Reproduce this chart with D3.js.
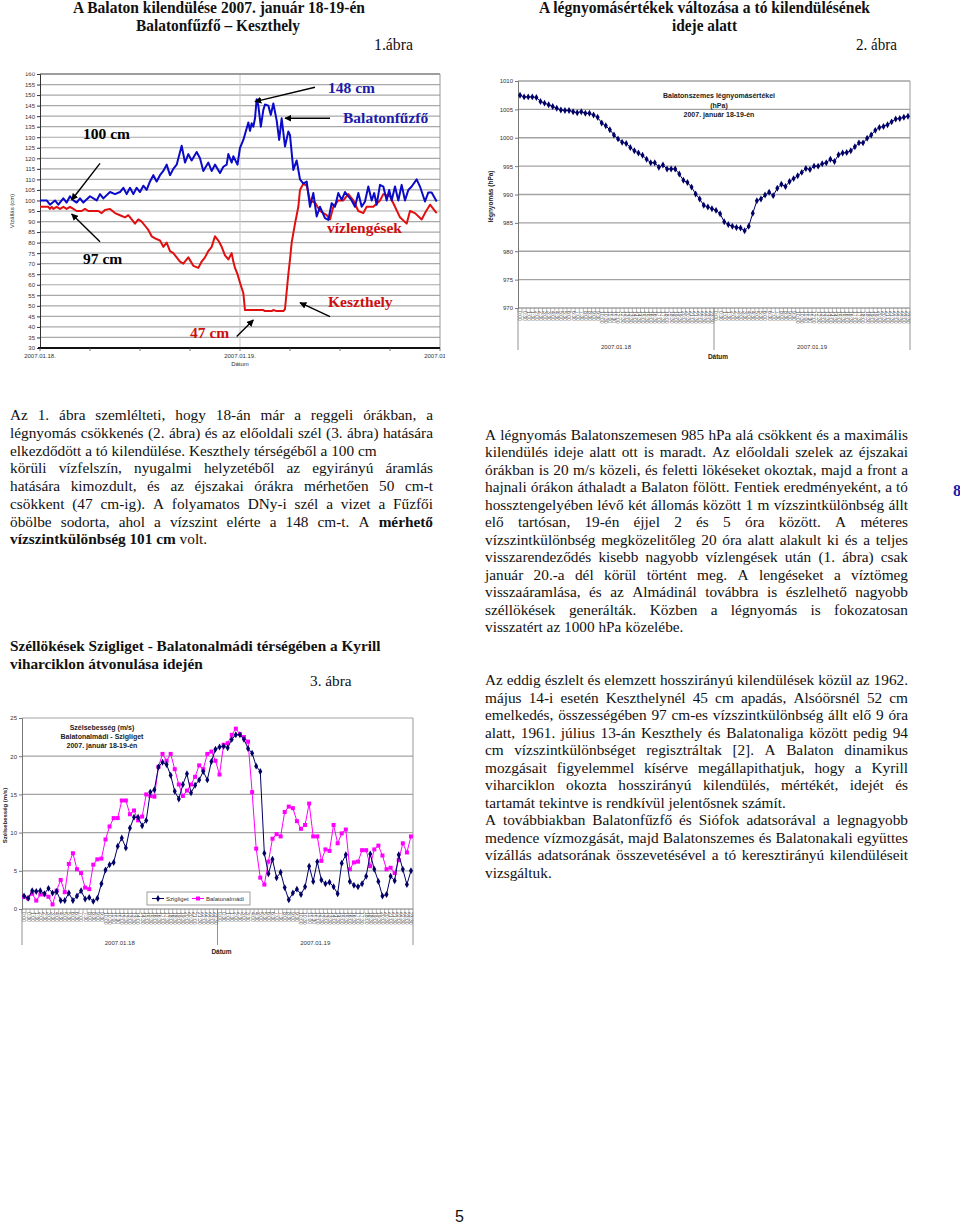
<!DOCTYPE html>
<html><head><meta charset="utf-8">
<script src="https://cdn.jsdelivr.net/npm/d3@7"></script>
<style>
body{margin:0;background:#fff;}
#page{position:relative;width:960px;height:1224px;overflow:hidden;background:#fff;}
svg{position:absolute;left:0;top:0;}
</style></head>
<body><div id="page"><svg id="svg" width="960" height="1224"></svg></div>
<script>
// ================= DATA =================
// Chart 1: water level (cm), hours since 2007.01.18 00:00
const fuzfoHours = [0,0.8,1.2,1.8,2.2,2.8,3.2,3.6,4.0,4.4,4.8,5.2,6.0,6.8,7.2,7.6,8.4,9.0,9.6,10.0,10.4,10.8,11.2,11.6,12.0,12.4,12.8,13.2,13.6,14.0,14.4,14.8,15.2,15.6,16.0,16.4,17.0,17.4,17.8,18.2,18.8,19.2,19.6,20.2,20.6,21.0,21.6,22.0,22.4,22.6,23.0,23.2,23.7,24.0,24.4,25.0,25.2,25.4,25.6,25.8,26.0,26.2,26.5,26.8,27.0,27.4,27.7,28.0,28.4,28.7,29.0,29.4,29.8,30.0,30.4,30.8,31.2,31.6,32.0,32.4,32.8,33.2,33.6,34.2,34.6,35.0,35.4,35.8,36.2,36.6,37.0,37.4,37.8,38.2,38.6,39.0,39.4,39.8,40.1,40.4,40.8,41.2,41.6,41.9,42.2,42.6,43.0,43.4,43.8,44.2,44.6,45.2,45.6,46.2,46.6,47.0,47.6];
const fuzfoLevels = [100,100,98,100,98,101,99,102,100,99,101,99,102,100,103,101,104,103,104,106,103,106,103,106,104,107,105,109,112,109,112,114,117,112,115,117,126,118,122,119,123,120,114,118,114,117,113,116,117,122,118,121,117,125,128.7,137,133,136.6,135,139,148,145,135,143,145.5,145,140.6,146,138,128.7,139,125.6,132.7,131,114.5,119,110,108,109,97,103.5,92.4,97,91.6,90.8,98.7,97,103.5,100.3,104,102,100,97,103.5,97,99.5,106.6,100,103.5,98,107.4,106.6,100,105,100,106.6,100,107.4,100,105,106.6,110,106.6,99.5,103.8,103.8,99.5];
const keszHours = [0,1.0,1.2,1.4,1.6,2.0,2.4,2.8,3.2,3.6,4.0,4.4,5.0,5.4,5.8,6.4,7.0,7.4,7.8,8.4,9.0,9.6,10.2,10.6,11.0,11.4,11.8,12.2,12.6,13.0,13.4,13.8,14.4,14.8,15.2,15.6,16.0,16.4,16.8,17.2,17.8,18.4,19.0,19.4,19.8,20.2,20.6,21.0,21.4,21.8,22.2,22.6,23.0,23.2,23.4,23.7,24.0,24.4,24.6,26.8,27.0,27.8,28.0,28.4,29.2,29.4,29.8,30.0,30.2,30.6,31.0,31.2,31.6,32.0,32.4,33.0,33.6,34.4,34.8,35.2,35.8,36.4,37.0,37.6,38.2,38.8,39.2,40.0,40.8,41.2,42.0,42.6,43.2,44.0,44.4,45.0,45.8,46.2,46.8,47.6];
const keszLevels = [97,97,96,97,96,97,96,97,96,97,96,95,95,96,95,95,95,94,95.5,96,94,93,92,93,91,89,91,90,88,86,83,82,81,78,80,76,75,73,71,70,73,69,68,71,73,76,78,83,81,78,74,72,75,71,68,65,61,56,48,48,47.5,47.5,48,47.5,47.5,48.5,65,72,80,89,97,105,108,107,100,99,95,93,91,97,100,100,103,100,95,94,97,97,100,103,102,97,92,89,95,94,91,94,98,94];
const levelTicks = [30,35,40,45,50,55,60,65,70,75,80,85,90,95,100,105,110,115,120,125,130,135,140,145,150,155,160];
const chart1Dates = ["2007.01.18.","2007.01.19.","2007.01.20."];
const chart1Labels = [
  {text:"100 cm", h:5.16, v:129.2, color:"#000"},
  {text:"97 cm", h:5.16, v:69.9, color:"#000"},
  {text:"47 cm", h:18.0, v:34.7, color:"#cc1010"},
  {text:"148 cm", h:34.56, v:151.0, color:"#1c1ca8"},
  {text:"Balatonfűzfő", h:36.36, v:136.8, color:"#1c1ca8"},
  {text:"vízlengések", h:34.44, v:84.6, color:"#cc1010"},
  {text:"Keszthely", h:34.56, v:49.5, color:"#cc1010"}
];
const chart1Arrows = [
  {h1:7.2, v1:117.6, h2:3.8, v2:100.2},
  {h1:7.2, v1:80.4, h2:3.8, v2:93.6},
  {h1:23.6, v1:35.4, h2:25.6, v2:43.3},
  {h1:33.0, v1:153.7, h2:25.8, v2:146.9},
  {h1:34.8, v1:139.0, h2:29.4, v2:139.0},
  {h1:34.8, v1:44.9, h2:31.2, v2:51.5}
];

// Chart 2: Balatonszemes air pressure (hPa), half-hourly, 18-19 Jan
const pressure = [1007.5,1007.2,1007.2,1007.2,1007.1,1006.4,1006.1,1005.8,1005.5,1005.2,1004.9,1004.8,1004.8,1004.6,1004.4,1004.6,1004.3,1004.3,1004.0,1003.6,1002.6,1002.1,1001.4,1000.5,999.8,999.2,999.0,998.3,997.7,997.3,996.9,996.2,995.6,995.6,994.8,995.2,994.5,994.5,994.5,993.6,992.5,992.1,991.3,990.1,989.2,988.1,987.8,987.5,
  987.2,986.6,985.2,984.7,984.4,984.2,984.1,983.6,984.4,986.7,988.9,989.2,989.9,990.4,989.8,991.1,991.8,991.4,992.3,992.8,993.3,993.9,994.6,994.4,995.0,995.0,995.4,995.6,996.2,995.8,997.0,997.3,997.4,997.7,998.4,999.1,999.1,999.9,1000.5,1001.3,1001.8,1002.0,1002.3,1002.8,1003.3,1003.4,1003.6,1003.8];
const pressureTicks = [970,975,980,985,990,995,1000,1005,1010];
const dayLabels = ["2007.01.18","2007.01.19"];
const chart2Title = ["Balatonszemes légnyomásértékei","(hPa)","2007. január 18-19-én"];

// Chart 3: wind gusts (m/s), half-hourly
const szigliget = [1.7,1.4,2.4,2.3,2.4,2.0,2.7,2.1,2.3,1.1,1.1,2.1,1.1,1.7,2.4,1.3,1.5,1.0,1.4,3.3,5.1,5.8,6.1,8.2,9.3,8.0,10.6,12.0,12.0,10.9,11.6,15.3,15.6,18.6,19.2,18.9,17.5,15.4,14.4,16.3,17.7,15.2,16.2,16.9,18.0,16.9,19.3,20.9,21.2,
  21.3,21.1,22.2,22.8,22.8,22.2,21.0,20.4,18.7,18.0,7.3,4.6,6.5,4.1,4.8,2.8,1.2,2.1,2.6,1.9,2.9,5.6,3.6,6.2,3.8,3.3,3.5,2.9,2.0,6.0,7.1,3.6,3.1,2.9,3.3,4.3,7.2,5.2,3.6,1.7,1.9,4.3,3.7,7.1,5.2,3.2,5.0];
const almadi = [1.6,1.4,2.0,1.1,1.9,1.9,1.6,0.6,2.4,3.8,2.2,5.9,7.3,5.2,4.7,2.8,2.6,5.8,6.5,6.6,9.1,10.8,11.9,11.9,14.2,14.2,12.4,12.9,11.6,12.1,15.0,14.8,14.7,18.6,20.3,19.4,20.3,18.3,16.3,14.8,15.5,16.3,17.3,18.8,18.3,20.3,20.6,19.4,17.6,
  21.5,21.7,22.8,23.6,22.9,22.5,21.9,15.3,7.9,4.1,3.2,6.2,9.2,9.8,9.5,12.7,13.4,13.2,11.5,10.5,11.0,13.8,9.5,9.5,6.3,7.8,7.6,11.0,8.6,9.9,10.4,5.2,6.1,6.2,7.7,7.7,5.6,7.8,8.3,7.0,5.2,5.4,4.7,6.4,8.6,7.4,9.5];
const windTicks = [0,5,10,15,20,25];
const chart3Title = ["Szélsebesség (m/s)","Balatonalmádi - Szigliget","2007. január 18-19-én"];
const seriesNames = ["Szigliget","Balatonalmádi"];

// half-hour category labels
const timeLabels = [];
for (let d = 0; d < 2; d++) for (let i = 0; i < 48; i++) timeLabels.push(Math.floor(i/2) + ":" + (i % 2 ? "30" : "00"));

// ---- Text content
const leftPara = [
  ["Az 1. ábra szemlélteti, hogy 18-án már a reggeli órákban, a", true],
  ["légnyomás csökkenés (2. ábra)  és az előoldali szél (3. ábra) hatására", true],
  ["elkezdődött a tó kilendülése. Keszthely térségéből a 100 cm", false],
  ["körüli vízfelszín, nyugalmi helyzetéből az egyirányú áramlás", true],
  ["hatására kimozdult, és az éjszakai órákra mérhetően 50 cm-t", true],
  ["csökkent (47 cm-ig). A folyamatos DNy-i szél a vizet a Fűzfői", true],
  ["öbölbe sodorta, ahol a vízszint elérte a 148 cm-t. A *mérhető", true],
  ["*vízszintkülönbség *101 *cm volt.", false]
];
const rightPara1 = [
  ["A légnyomás Balatonszemesen 985 hPa alá csökkent és a maximális", true],
  ["kilendülés ideje alatt ott is maradt. Az előoldali szelek az éjszakai", true],
  ["órákban is 20 m/s közeli, és feletti lökéseket okoztak, majd a front a", true],
  ["hajnali órákon áthaladt a Balaton fölött. Fentiek eredményeként, a tó", true],
  ["hossztengelyében lévő két állomás között 1 m vízszintkülönbség állt", true],
  ["elő tartósan, 19-én éjjel 2 és 5 óra között. A méteres", true],
  ["vízszintkülönbség megközelitőleg 20 óra alatt alakult ki és a teljes", true],
  ["visszarendeződés kisebb nagyobb vízlengések után (1. ábra) csak", true],
  ["január 20.-a dél körül történt meg. A lengéseket a víztömeg", true],
  ["visszaáramlása, és az Almádinál továbbra is észlelhető nagyobb", true],
  ["széllökések generálták. Közben a légnyomás is fokozatosan", true],
  ["visszatért az 1000 hPa közelébe.", false]
];
const rightPara2 = [
  ["Az eddig észlelt és elemzett hosszirányú kilendülések közül az 1962.", true],
  ["május 14-i esetén Keszthelynél 45 cm apadás, Alsóörsnél 52 cm", true],
  ["emelkedés, összességében 97 cm-es vízszintkülönbség állt elő 9 óra", true],
  ["alatt, 1961. július 13-án Keszthely és Balatonaliga között pedig 94", true],
  ["cm vízszintkülönbséget regisztráltak [2]. A Balaton dinamikus", true],
  ["mozgásait figyelemmel kísérve megállapithatjuk, hogy a Kyrill", true],
  ["viharciklon okozta hosszirányú kilendülés, mértékét, idejét és", true],
  ["tartamát tekintve is rendkívül jelentősnek számít.", false],
  ["A továbbiakban Balatonfűzfő és Siófok adatsorával a legnagyobb", true],
  ["medence vízmozgását, majd Balatonszemes és Balatonakali együttes", true],
  ["vízállás adatsorának összevetésével a tó keresztirányú kilendüléseit", true],
  ["vizsgáltuk.", false]
];

// ================= DRAWING =================
const serif = "'Liberation Serif','Times New Roman',serif";
const sans = "'Liberation Sans',Arial,sans-serif";
const svg = d3.select("#svg");
const defs = svg.append("defs");

function textLine(g, x, y, width, line, justify, size, allBold) {
  const words = line.split(/ +/);
  const items = words.map(w => {
    const bold = allBold || w.startsWith("*");
    const t = w.startsWith("*") ? w.slice(1) : w;
    const el = g.append("text").attr("y", y).attr("font-family", serif).attr("font-size", size)
      .attr("font-weight", bold ? "bold" : "normal").attr("fill", "#111").text(t);
    return {el, w: el.node().getComputedTextLength()};
  });
  const total = d3.sum(items, d => d.w);
  const gap = justify && items.length > 1 ? (width - total) / (items.length - 1) : size * 0.25;
  let cx = x;
  items.forEach(d => { d.el.attr("x", cx); cx += d.w + gap; });
}
function fitText(g, x, y, len, txt, size, weight, anchor) {
  return g.append("text").attr("x", x).attr("y", y).attr("font-family", serif).attr("font-size", size)
    .attr("font-weight", weight).attr("text-anchor", anchor || "start")
    .attr("textLength", len).attr("lengthAdjust", "spacingAndGlyphs").attr("fill", "#111").text(txt);
}

// ---- Header titles
const hg = svg.append("g");
fitText(hg, 73, 13, 292, "A Balaton kilendülése 2007. január 18-19-én", 16, "bold");
fitText(hg, 136, 31, 164, "Balatonfűzfő – Keszthely", 16, "bold");
fitText(hg, 374, 50, 39, "1.ábra", 16, "normal");
fitText(hg, 539, 13, 331, "A légnyomásértékek változása a tó kilendülésének", 16, "bold");
fitText(hg, 672, 31, 65, "ideje alatt", 16, "bold");
fitText(hg, 856, 50, 41, "2. ábra", 16, "normal");

// ================= Chart 1 =================
(function(){
  const c = {l:40, r:440, t:74, b:348};
  defs.append("clipPath").attr("id","clip1").append("rect").attr("x",0).attr("y",72.5).attr("width",445).attr("height",300);
  const g = svg.append("g").attr("clip-path","url(#clip1)");
  const x = d3.scaleLinear().domain([0,48]).range([c.l,c.r]);
  const y = d3.scaleLinear().domain([30,160]).range([c.b,c.t]);
  g.selectAll("line.grid").data(levelTicks.slice(1)).join("line")
    .attr("x1",c.l).attr("x2",c.r).attr("y1",d=>y(d)).attr("y2",d=>y(d))
    .attr("stroke","#a9a9a9").attr("stroke-width",1.2);
  g.append("line").attr("x1",x(24)).attr("x2",x(24)).attr("y1",c.t).attr("y2",c.b).attr("stroke","#c8c8c8");
  g.append("line").attr("x1",c.l).attr("x2",c.r).attr("y1",c.t).attr("y2",c.t).attr("stroke","#666").attr("stroke-width",1.2);
  g.append("line").attr("x1",c.r).attr("x2",c.r).attr("y1",c.t).attr("y2",c.b).attr("stroke","#999");
  const ax = g.append("g").attr("transform",`translate(${c.l},0)`).call(d3.axisLeft(y).tickValues(levelTicks).tickSize(3).tickPadding(2).tickFormat(d3.format("d")));
  ax.attr("font-family",sans).attr("font-size",6);
  ax.selectAll("text").attr("fill","#333");
  ax.selectAll("line,path").attr("stroke","#333");
  g.append("line").attr("x1",c.l-2).attr("x2",c.r).attr("y1",c.b).attr("y2",c.b).attr("stroke","#111").attr("stroke-width",2);
  g.selectAll("line.xt").data(d3.range(0,49,6)).join("line")
    .attr("x1",d=>x(d)).attr("x2",d=>x(d)).attr("y1",c.b).attr("y2",c.b+3).attr("stroke","#555").attr("stroke-width",0.8);
  g.selectAll("text.dl").data(chart1Dates).join("text")
    .attr("x",(d,i)=>x(i*24)).attr("y",c.b+10).attr("text-anchor","middle")
    .attr("font-family",sans).attr("font-size",6).attr("fill","#333").text(d=>d);
  g.append("text").attr("x",x(24)).attr("y",c.b+18).attr("text-anchor","middle")
    .attr("font-family",sans).attr("font-size",6).attr("fill","#333").text("Dátum");
  g.append("text").attr("transform",`translate(14,${(c.t+c.b)/2}) rotate(-90)`).attr("text-anchor","middle")
    .attr("font-family",sans).attr("font-size",6).attr("fill","#333").text("Vízállás (cm)");

  const line = d3.line().x(d=>x(d[0])).y(d=>y(d[1]));
  g.append("path").attr("d",line(keszHours.map((h,i)=>[h,keszLevels[i]])))
    .attr("fill","none").attr("stroke","#e01010").attr("stroke-width",2).attr("stroke-linejoin","round");
  g.append("path").attr("d",line(fuzfoHours.map((h,i)=>[h,fuzfoLevels[i]])))
    .attr("fill","none").attr("stroke","#0a0ac8").attr("stroke-width",2).attr("stroke-linejoin","round");

  defs.append("marker").attr("id","ah").attr("viewBox","0 0 10 10").attr("refX",9).attr("refY",5)
    .attr("markerWidth",7).attr("markerHeight",7).attr("markerUnits","userSpaceOnUse").attr("orient","auto")
    .append("path").attr("d","M0,0 L10,5 L0,10 z").attr("fill","#000");
  g.selectAll("line.arrow").data(chart1Arrows).join("line")
    .attr("x1",d=>x(d.h1)).attr("y1",d=>y(d.v1)).attr("x2",d=>x(d.h2)).attr("y2",d=>y(d.v2))
    .attr("stroke","#000").attr("stroke-width",1.4).attr("marker-end","url(#ah)");
  g.selectAll("text.ann").data(chart1Labels).join("text")
    .attr("x",d=>x(d.h)).attr("y",d=>y(d.v)).attr("font-family",serif).attr("font-size",15.5)
    .attr("font-weight","bold").attr("fill",d=>d.color).text(d=>d.text);
})();

// ---- category axis helper (charts 2, 3)
function categoryAxis(g, xs, yb, depth, dateY, datumY) {
  const bw = xs.bandwidth();
  const [r0, r1] = xs.range();
  g.selectAll("line.ct").data(xs.domain()).join("line")
    .attr("x1",d=>xs(d)).attr("x2",d=>xs(d)).attr("y1",yb).attr("y2",yb+4)
    .attr("stroke","#777").attr("stroke-width",0.5);
  g.selectAll("text.cl").data(xs.domain()).join("text")
    .attr("transform",d=>`translate(${xs(d)+bw/2-1.6},${yb+3}) rotate(90)`)
    .attr("font-family",sans).attr("font-size",5).attr("fill","#444").text(d=>timeLabels[d]);
  g.selectAll("line.sep").data([0,48]).join("line")
    .attr("x1",d=>xs(d)).attr("x2",d=>xs(d)).attr("y1",yb).attr("y2",yb+depth)
    .attr("stroke","#777").attr("stroke-width",0.8);
  g.append("line").attr("x1",r1).attr("x2",r1).attr("y1",yb).attr("y2",yb+depth).attr("stroke","#777").attr("stroke-width",0.8);
  g.selectAll("text.day").data(dayLabels).join("text")
    .attr("x",(d,i)=>xs(i*48)+bw*24).attr("y",dateY).attr("text-anchor","middle")
    .attr("font-family",sans).attr("font-size",6).attr("fill","#333").text(d=>d);
  g.append("text").attr("x",xs(48)+4).attr("y",datumY).attr("text-anchor","middle")
    .attr("font-family",sans).attr("font-size",6.5).attr("font-weight","bold").attr("fill","#222").text("Dátum");
}

// ================= Chart 2 =================
(function(){
  const c = {l:518, r:910, t:81, b:308};
  const g = svg.append("g");
  const x = d3.scaleBand().domain(d3.range(pressure.length)).range([c.l,c.r]);
  const y = d3.scaleLinear().domain([970,1010]).range([c.b,c.t]);
  g.selectAll("line.grid").data(pressureTicks).join("line")
    .attr("x1",c.l).attr("x2",c.r).attr("y1",d=>y(d)).attr("y2",d=>y(d))
    .attr("stroke","#a3a3a3").attr("stroke-width",1.3);
  g.append("line").attr("x1",c.r).attr("x2",c.r).attr("y1",c.t).attr("y2",c.b).attr("stroke","#999");
  const ax = g.append("g").attr("transform",`translate(${c.l},0)`).call(d3.axisLeft(y).tickValues(pressureTicks).tickSize(3).tickPadding(2).tickFormat(d3.format("d")));
  ax.attr("font-family",sans).attr("font-size",6);
  ax.selectAll("text").attr("fill","#333");
  ax.selectAll("line,path").attr("stroke","#777");
  categoryAxis(g, x, c.b, 42, c.b+41, c.b+51);
  g.append("text").attr("transform",`translate(493,${(c.t+c.b)/2+2}) rotate(-90)`).attr("text-anchor","middle")
    .attr("font-family",sans).attr("font-size",6.5).attr("font-weight","bold").attr("fill","#222").text("légnyomás (hPa)");
  g.selectAll("text.tt").data(chart2Title).join("text")
    .attr("x",719).attr("y",(d,i)=>98+i*9.5).attr("text-anchor","middle")
    .attr("font-family",sans).attr("font-size",7).attr("font-weight","bold").attr("fill","#222").text(d=>d);
  const cx = i => x(i) + x.bandwidth()/2;
  g.append("path").attr("d",d3.line().x((d,i)=>cx(i)).y(d=>y(d))(pressure))
    .attr("fill","none").attr("stroke","#000066").attr("stroke-width",1);
  g.selectAll("path.pt").data(pressure).join("path")
    .attr("d",d3.symbol(d3.symbolDiamond,14)).attr("transform",(d,i)=>`translate(${cx(i)},${y(d)})`)
    .attr("fill","#000066");
})();

// ================= Chart 3 =================
(function(){
  const c = {l:22, r:413, t:718, b:909};
  const g = svg.append("g");
  const x = d3.scaleBand().domain(d3.range(szigliget.length)).range([c.l,c.r]);
  const y = d3.scaleLinear().domain([0,25]).range([c.b,c.t]);
  g.selectAll("line.grid").data(windTicks.slice(1)).join("line")
    .attr("x1",c.l).attr("x2",c.r).attr("y1",d=>y(d)).attr("y2",d=>y(d))
    .attr("stroke","#a3a3a3").attr("stroke-width",1.2);
  g.append("line").attr("x1",c.r).attr("x2",c.r).attr("y1",c.t).attr("y2",c.b).attr("stroke","#999");
  g.append("line").attr("x1",c.l).attr("x2",c.r).attr("y1",c.b).attr("y2",c.b).attr("stroke","#777");
  const ax = g.append("g").attr("transform",`translate(${c.l},0)`).call(d3.axisLeft(y).tickValues(windTicks).tickSize(3).tickPadding(2).tickFormat(d3.format("d")));
  ax.attr("font-family",sans).attr("font-size",6);
  ax.selectAll("text").attr("fill","#333");
  ax.selectAll("line,path").attr("stroke","#777");
  categoryAxis(g, x, c.b, 36, c.b+36, c.b+45);
  g.append("text").attr("transform",`translate(7,${(c.t+c.b)/2+2}) rotate(-90)`).attr("text-anchor","middle")
    .attr("font-family",sans).attr("font-size",6).attr("font-weight","bold").attr("fill","#222").text("Szélsebesség (m/s)");
  g.selectAll("text.tt").data(chart3Title).join("text")
    .attr("x",102).attr("y",(d,i)=>730+i*9).attr("text-anchor","middle")
    .attr("font-family",sans).attr("font-size",7).attr("font-weight","bold").attr("fill","#222").text(d=>d);
  const cx = i => x(i) + x.bandwidth()/2;
  const ln = d3.line().x((d,i)=>cx(i)).y(d=>y(d));
  g.append("path").attr("d",ln(almadi)).attr("fill","none").attr("stroke","#ff00ff").attr("stroke-width",1);
  g.selectAll("rect.pt").data(almadi).join("rect")
    .attr("x",(d,i)=>cx(i)-2).attr("y",d=>y(d)-2).attr("width",4).attr("height",4).attr("fill","#ff00ff");
  g.append("path").attr("d",ln(szigliget)).attr("fill","none").attr("stroke","#000066").attr("stroke-width",1);
  g.selectAll("path.pt").data(szigliget).join("path")
    .attr("d",d3.symbol(d3.symbolDiamond,14)).attr("transform",(d,i)=>`translate(${cx(i)},${y(d)})`)
    .attr("fill","#000066");
  // legend
  const lg = g.append("g").attr("transform","translate(147,892)");
  lg.append("rect").attr("width",103).attr("height",13).attr("fill","#fff").attr("stroke","#888").attr("stroke-width",0.8);
  const cols = ["#000066","#ff00ff"];
  const offs = [5, 45];
  seriesNames.forEach((n,i) => {
    lg.append("line").attr("x1",offs[i]).attr("x2",offs[i]+12).attr("y1",6.5).attr("y2",6.5).attr("stroke",cols[i]);
    if (i === 0) lg.append("path").attr("d",d3.symbol(d3.symbolDiamond,14)).attr("transform",`translate(${offs[i]+6},6.5)`).attr("fill",cols[i]);
    else lg.append("rect").attr("x",offs[i]+4).attr("y",4.5).attr("width",4).attr("height",4).attr("fill",cols[i]);
    lg.append("text").attr("x",offs[i]+14).attr("y",8.7).attr("font-family",sans).attr("font-size",6).attr("fill","#333").text(n);
  });
})();

// ================= Body text =================
const tg = svg.append("g");
leftPara.forEach((l,i) => textLine(tg, 10, 420 + i*17.75, 423, l[0], l[1], 15.3, false));
rightPara1.forEach((l,i) => textLine(tg, 485, 440 + i*17.45, 423, l[0], l[1], 15.3, false));
rightPara2.forEach((l,i) => textLine(tg, 485, 685 + i*17.5, 423, l[0], l[1], 15.3, false));
textLine(tg, 10, 651, 400, "Széllökések Szigliget - Balatonalmádi térségében a Kyrill", false, 15.3, true);
textLine(tg, 10, 669, 400, "viharciklon átvonulása idején", false, 15.3, true);
textLine(tg, 310, 686, 100, "3. ábra", false, 15.3, false);
svg.append("text").attr("x",953).attr("y",496).attr("font-family",serif).attr("font-size",16)
  .attr("font-weight","bold").attr("fill","#1c1ca8").text("8");
svg.append("text").attr("x",455).attr("y",1222).attr("font-family",sans).attr("font-size",16)
  .attr("fill","#111").text("5");
</script>
</body></html>
